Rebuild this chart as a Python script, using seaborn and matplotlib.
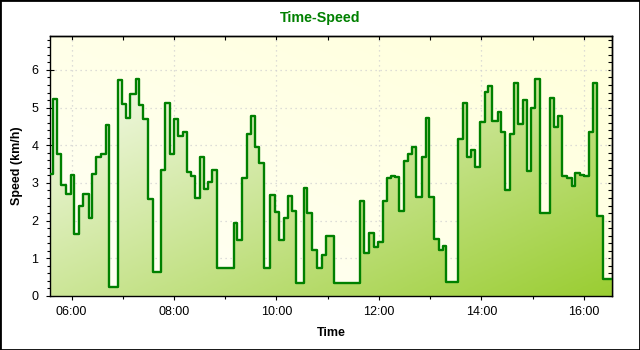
import numpy as np
import pandas as pd
import matplotlib
matplotlib.use("Agg")
import matplotlib.pyplot as plt
import seaborn as sns
from matplotlib.ticker import MultipleLocator, FuncFormatter, NullFormatter
from matplotlib.colors import LinearSegmentedColormap
from matplotlib.patches import Rectangle

# Speed samples (start time of each step, km/h)
times = [
    "05:35", "05:38", "05:43", "05:48", "05:54", "05:59", "06:03", "06:09", "06:14", "06:20",
    "06:24", "06:29", "06:34", "06:40", "06:44", "06:54", "06:59", "07:04", "07:09", "07:15",
    "07:19", "07:24", "07:30", "07:35", "07:45", "07:50", "07:55", "08:00", "08:05", "08:10",
    "08:15", "08:20", "08:25", "08:30", "08:35", "08:40", "08:45", "08:50", "09:10", "09:14",
    "09:20", "09:25", "09:30", "09:35", "09:40", "09:45", "09:53", "09:58", "10:03", "10:09",
    "10:13", "10:18", "10:23", "10:32", "10:36", "10:42", "10:47", "10:53", "10:58", "11:08",
    "11:38", "11:43", "11:49", "11:54", "11:59", "12:05", "12:09", "12:14", "12:19", "12:24",
    "12:29", "12:34", "12:39", "12:44", "12:50", "12:55", "12:59", "13:05", "13:10", "13:15",
    "13:19", "13:33", "13:38", "13:43", "13:48", "13:53", "13:59", "14:04", "14:08", "14:13",
    "14:19", "14:23", "14:28", "14:34", "14:38", "14:43", "14:49", "14:54", "14:58", "15:03",
    "15:09", "15:20", "15:25", "15:30", "15:35", "15:40", "15:46", "15:50", "15:55", "16:00",
    "16:06", "16:11", "16:16", "16:22",
]
speeds = [
    3.24, 5.22, 3.77, 2.95, 2.72, 3.21, 1.64, 2.40, 2.71, 2.08,
    3.24, 3.70, 3.77, 4.55, 0.25, 5.73, 5.10, 4.73, 5.36, 5.76,
    5.07, 4.69, 2.57, 0.65, 3.34, 5.13, 3.78, 4.69, 4.24, 4.36,
    3.30, 3.19, 2.61, 3.69, 2.85, 3.02, 3.34, 0.75, 1.95, 1.49,
    3.14, 4.31, 4.77, 3.96, 3.54, 0.75, 2.69, 2.24, 1.49, 2.07,
    2.66, 2.25, 0.35, 2.86, 2.21, 1.21, 0.75, 1.10, 1.59, 0.35,
    2.52, 1.15, 1.68, 1.31, 1.42, 2.52, 3.14, 3.18, 3.15, 2.25,
    3.58, 3.77, 3.96, 2.63, 3.70, 4.72, 2.63, 1.52, 1.23, 1.33,
    0.38, 4.17, 5.13, 3.70, 3.87, 3.43, 4.62, 5.41, 5.57, 4.65,
    4.89, 4.36, 2.81, 4.30, 5.66, 4.57, 5.20, 3.32, 4.99, 5.76,
    2.21, 5.25, 4.49, 4.77, 3.19, 3.14, 2.93, 3.27, 3.21, 3.19,
    4.36, 5.64, 2.13, 0.44,
]
end_time = "16:33"
x_ticks = [6, 8, 10, 12, 14, 16]
y_max = 6.9


def to_hours(s):
    h, m = s.split(":")
    return int(h) + int(m) / 60.0


hours = [to_hours(t) for t in times] + [to_hours(end_time)]
values = speeds + [speeds[-1]]
df = pd.DataFrame({"Time": hours, "Speed": values})

sns.set_theme(style="white")
plt.rcParams["font.family"] = ["Liberation Sans", "DejaVu Sans"]

fig = plt.figure(figsize=(6.4, 3.5), dpi=100)
fig.patch.set_facecolor("white")
ax = fig.add_axes([0.0784, 0.1543, 0.8778, 0.7428])

x0, x1 = hours[0], hours[-1]

# plot-area background: ivory (bottom-left) to light yellow (top-right)
u = np.linspace(0, 1, 300)
v = np.linspace(0, 1, 200)
bg_t = (u[None, :] + v[:, None]) / 2
bg_cmap = LinearSegmentedColormap.from_list("bg", ["#fffff6", "#ffffda"])
ax.imshow(bg_t, cmap=bg_cmap, extent=[x0, x1, 0, y_max], origin="lower",
          aspect="auto", zorder=0, interpolation="bilinear")

# area under the curve: diagonal white -> yellowgreen
fill_t = (u[None, :] + (1 - v[:, None])) / 2
fill_cmap = LinearSegmentedColormap.from_list("fill", ["#ffffff", "#9acd32"])
fill_img = ax.imshow(fill_t, cmap=fill_cmap, extent=[x0, x1, 0, y_max], origin="lower",
                     aspect="auto", zorder=1, interpolation="bilinear")
area = ax.fill_between(df["Time"], 0, df["Speed"], step="post",
                       facecolor="none", edgecolor="none")
fill_img.set_clip_path(area.get_paths()[0], transform=ax.transData)

sns.lineplot(data=df, x="Time", y="Speed", drawstyle="steps-post", color="#008000",
             linewidth=1.7, estimator=None, sort=False, ax=ax, zorder=3)

ax.set_xlim(x0, x1)
ax.set_ylim(0, y_max)
ax.set_axisbelow(True)
ax.grid(True, which="major", color="#d2d2d2", linestyle=(0, (1, 3)), linewidth=0.9)

ax.set_xticks(x_ticks)
ax.xaxis.set_minor_locator(MultipleLocator(1))
ax.xaxis.set_major_formatter(FuncFormatter(lambda val, pos: f"{int(round(val)):02d}:00"))
ax.yaxis.set_major_locator(MultipleLocator(1))
ax.yaxis.set_minor_locator(MultipleLocator(0.2))

ax.tick_params(which="major", direction="inout", length=5.8, width=0.8, color="black",
               labelsize=9, labelcolor="black")
ax.tick_params(which="minor", direction="out", length=2.4, width=0.8, color="black")
ax.tick_params(axis="x", which="major", pad=4.3, bottom=True)
ax.tick_params(axis="x", which="minor", bottom=True)
ax.tick_params(axis="y", which="major", pad=5.7, left=True)
ax.tick_params(axis="y", which="minor", left=True)

for sp in ax.spines.values():
    sp.set_color("black")
    sp.set_linewidth(1.0)
    sp.set_visible(True)

# inward ticks on the top and right edges
secx = ax.secondary_xaxis("top")
secx.set_xticks(x_ticks)
secx.xaxis.set_minor_locator(MultipleLocator(1))
secx.xaxis.set_major_formatter(NullFormatter())
secx.tick_params(which="both", direction="in", length=3, width=0.8, color="black")
secy = ax.secondary_yaxis("right")
secy.yaxis.set_major_locator(MultipleLocator(1))
secy.yaxis.set_minor_locator(MultipleLocator(0.2))
secy.yaxis.set_major_formatter(NullFormatter())
secy.tick_params(which="both", direction="in", length=2.6, width=0.8, color="black")
for s in (secx, secy):
    for sp in s.spines.values():
        sp.set_color("black")
        sp.set_linewidth(1.0)

ax.set_title("Time-Speed", fontsize=10.3, fontweight="bold", color="#008000", pad=10, x=0.48)
ax.set_xlabel("Time", fontsize=9, fontweight="bold", color="black", va="center")
ax.set_ylabel("Speed (km/h)", fontsize=9, fontweight="bold", color="black", va="center")
ax.xaxis.set_label_coords(0.5, -0.142)
ax.yaxis.set_label_coords(-0.0596, 0.5)

fig.add_artist(Rectangle((0, 0), 1, 1, transform=fig.transFigure, fill=False,
                         edgecolor="black", linewidth=2))

fig.savefig("out.png", dpi=100)
